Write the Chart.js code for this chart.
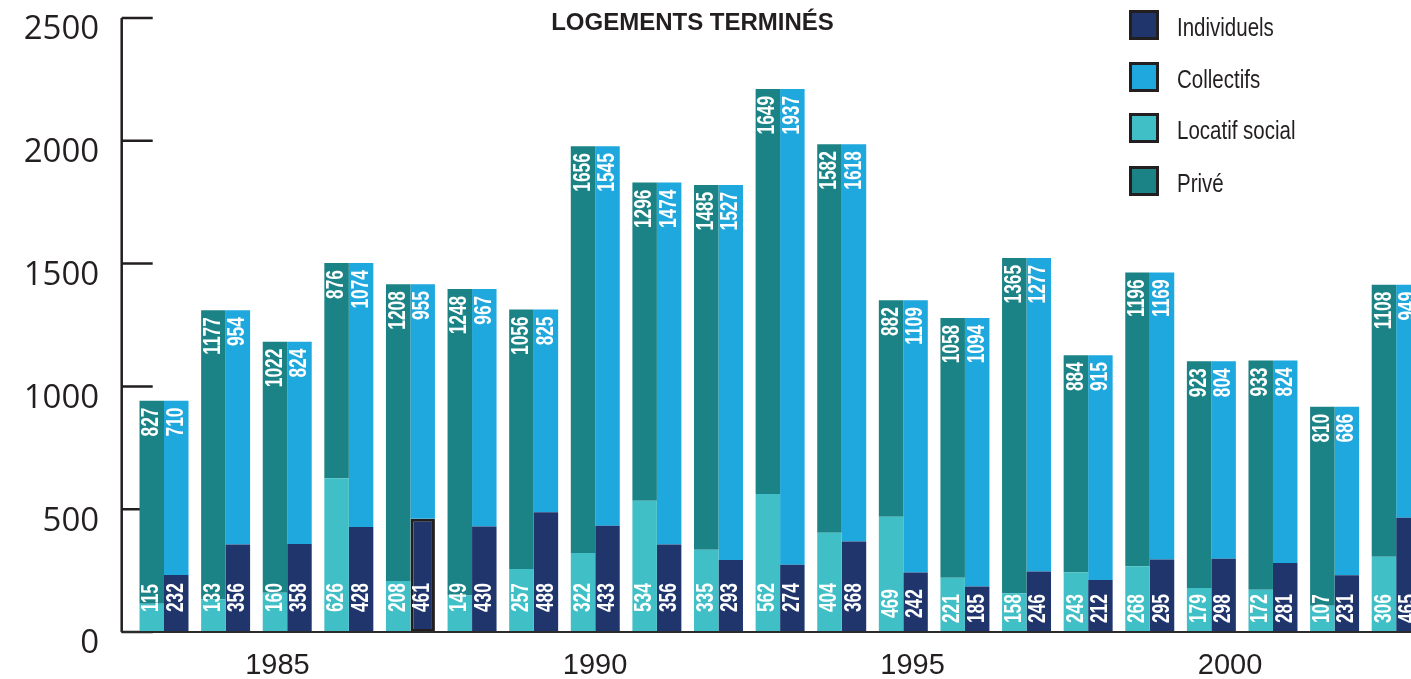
<!DOCTYPE html>
<html>
<head>
<meta charset="utf-8">
<script src="https://cdn.jsdelivr.net/npm/chart.js@4"></script>
<style>
  body { margin: 0; overflow: hidden; background: #fff; }
  #wrap { position: relative; width: 1427px; height: 679px; }
  #title { position: absolute; left: 0; width: 1385px; top: 8px; text-align: center;
    font: bold 24px "Liberation Sans", Arial, sans-serif; color: #231f20; }
  .leg { position: absolute; left: 1129px; height: 30px; }
  .leg .box { position: absolute; left: 0; top: 0; width: 30px; height: 30px; box-sizing: border-box; border: 3px solid #231f20; }
  .leg .txt { position: absolute; left: 48px; top: 3px; line-height: 30px; white-space: nowrap;
    font: 25px "Liberation Sans", Arial, sans-serif; color: #231f20; transform: scaleX(0.82); transform-origin: left center; }
</style>
</head>
<body>
<div id="wrap">
  <canvas id="chart" width="1427" height="679"></canvas>
  <div id="title">LOGEMENTS TERMINÉS</div>
  <div id="legend"></div>
</div>
<script>
// Data
const years = [1983, 1984, 1985, 1986, 1987, 1988, 1989, 1990, 1991, 1992, 1993, 1994, 1995, 1996, 1997, 1998, 1999, 2000, 2001, 2002, 2003];
const locatifSocial = [115, 133, 160, 626, 208, 149, 257, 322, 534, 335, 562, 404, 469, 221, 158, 243, 268, 179, 172, 107, 306];
const prive = [827, 1177, 1022, 876, 1208, 1248, 1056, 1656, 1296, 1485, 1649, 1582, 882, 1058, 1365, 884, 1196, 923, 933, 810, 1108];
const individuels = [232, 356, 358, 428, 461, 430, 488, 433, 356, 293, 274, 368, 242, 185, 246, 212, 295, 298, 281, 231, 465];
const collectifs = [710, 954, 824, 1074, 955, 967, 825, 1545, 1474, 1527, 1937, 1618, 1109, 1094, 1277, 915, 1169, 804, 824, 686, 949];
const yearTicks = [1985, 1990, 1995, 2000];
const highlightYear = 1987;

const COLORS = {
    individuels: '#1f356c',
    collectifs: '#1ea8de',
    locatif: '#40c0c6',
    prive: '#1b8385'
};
const INK = '#231f20';

// Legend (html)
const legendItems = [
    ['Individuels', COLORS.individuels, 10],
    ['Collectifs', COLORS.collectifs, 62],
    ['Locatif social', COLORS.locatif, 113],
    ['Privé', COLORS.prive, 166]
];
const legendEl = document.getElementById('legend');
legendItems.forEach(([label, color, top]) => {
    const d = document.createElement('div');
    d.className = 'leg';
    d.style.top = top + 'px';
    d.innerHTML = `<div class="box" style="background:${color}"></div><div class="txt">${label}</div>`;
    legendEl.appendChild(d);
});

// Axis lines, tick marks and baseline
const axisPlugin = {
    id: 'axisPlugin',
    beforeDatasetsDraw(chart) {
        const { ctx, chartArea, scales } = chart;
        const y = scales.y;
        const ax = chartArea.left - 11.5;
        ctx.save();
        ctx.strokeStyle = INK;
        ctx.lineWidth = 2.5;
        ctx.beginPath();
        ctx.moveTo(ax, y.getPixelForValue(2500));
        ctx.lineTo(ax, y.getPixelForValue(0));
        y.ticks.forEach(t => {
            const py = y.getPixelForValue(t.value);
            ctx.moveTo(ax, py);
            ctx.lineTo(ax + 31, py);
        });
        ctx.stroke();
        ctx.restore();
    },
    afterDatasetsDraw(chart) {
        const { ctx, chartArea, scales } = chart;
        const by = scales.y.getPixelForValue(0);
        ctx.save();
        ctx.strokeStyle = '#2b2b2b';
        ctx.lineWidth = 2;
        ctx.beginPath();
        ctx.moveTo(chartArea.left - 12, by);
        ctx.lineTo(chartArea.right + 20, by);
        ctx.stroke();
        ctx.restore();
    }
};

// Rotated white value labels in the bars
const valueLabels = {
    id: 'valueLabels',
    afterDatasetsDraw(chart) {
        const { ctx } = chart;
        ctx.save();
        ctx.fillStyle = '#ffffff';
        ctx.font = 'bold 24px "Liberation Sans", Arial, sans-serif';
        ctx.textBaseline = 'middle';
        chart.data.datasets.forEach((ds, di) => {
            const meta = chart.getDatasetMeta(di);
            meta.data.forEach((bar, i) => {
                const txt = String(ds.data[i]);
                ctx.save();
                if (ds.isBottom) {
                    const off = i < 12 ? 20 : (i === 12 ? 14 : 9);
                    ctx.translate(bar.x, bar.base - off);
                    ctx.rotate(-Math.PI / 2);
                    ctx.scale(0.72, 1);
                    ctx.textAlign = 'left';
                } else {
                    ctx.translate(bar.x, bar.y + 7);
                    ctx.rotate(-Math.PI / 2);
                    ctx.scale(0.72, 1);
                    ctx.textAlign = 'right';
                }
                ctx.fillText(txt, 0, 0);
                ctx.restore();
            });
        });
        ctx.restore();
    }
};

const mkSet = (label, data, color, stack, isBottom) => ({
    label,
    data,
    backgroundColor: color,
    stack,
    isBottom,
    borderWidth: 0
});

const datasets = [
    mkSet('Locatif social', locatifSocial, COLORS.locatif, 'a', true),
    mkSet('Privé', prive, COLORS.prive, 'a', false),
    mkSet('Individuels', individuels, COLORS.individuels, 'b', true),
    mkSet('Collectifs', collectifs, COLORS.collectifs, 'b', false)
];
// outlined bar
datasets[2].borderColor = INK;
datasets[2].borderSkipped = false;
datasets[2].borderWidth = c => (years[c.dataIndex] === highlightYear ? 3 : 0);

new Chart(document.getElementById('chart').getContext('2d'), {
    type: 'bar',
    data: { labels: years, datasets },
    options: {
        responsive: false,
        animation: false,
        layout: { padding: { top: 18, left: 0, right: 0, bottom: 0 } },
        datasets: {
            bar: { categoryPercentage: 0.795, barPercentage: 1 }
        },
        plugins: {
            legend: { display: false },
            tooltip: { enabled: false },
            title: { display: false }
        },
        scales: {
            x: {
                display: false,
                stacked: true
            },
            xYear: {
                type: 'linear',
                position: 'bottom',
                offset: false,
                bounds: 'data',
                min: 1982.728,
                max: 2003.1,
                grid: { display: false, offset: false },
                border: { display: false },
                afterBuildTicks: s => { s.ticks = yearTicks.map(v => ({ value: v })); },
                afterFit: s => { s.height = 47; s.paddingLeft = 0; s.paddingRight = 0; },
                ticks: {
                    padding: 9,
                    includeBounds: false,
                    color: INK,
                    font: { family: '"Liberation Sans Narrow", "Liberation Sans", Arial, sans-serif', size: 29 },
                    callback: v => String(v)
                }
            },
            y: {
                stacked: true,
                min: 0,
                max: 2500,
                grid: { display: false },
                border: { display: false },
                afterFit: s => { s.width = 133.2; s.paddingTop = 0; s.paddingBottom = 0; },
                ticks: {
                    stepSize: 500,
                    padding: 26,
                    labelOffset: 12,
                    color: INK,
                    font: { family: '"Open Sans", sans-serif', size: 33 },
                    callback: v => String(v)
                }
            }
        }
    },
    plugins: [axisPlugin, valueLabels]
});
</script>
</body>
</html>
